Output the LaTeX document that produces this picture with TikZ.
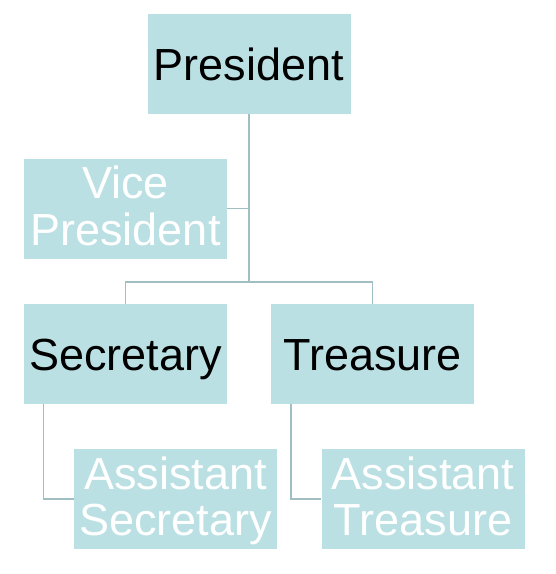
\documentclass[tikz,border=0pt]{standalone}
\usepackage{fontspec}
\setmainfont{Liberation Sans}
\definecolor{boxfill}{HTML}{BAE0E3}
\definecolor{linec}{HTML}{A0BFC3}
\newcommand{\twolines}[2]{\begin{tabular}[b]{@{}c@{}}#1\\#2\end{tabular}}
\begin{document}
\begin{tikzpicture}[x=1pt,y=-1pt,
  orgbox/.style={fill=boxfill, draw=none, minimum width=203pt, minimum height=100pt, inner sep=0pt,
    font=\fontsize{45}{46}\selectfont},
  oneline/.style={text height=33.4pt, text depth=0pt},
  twoline/.style={text height=73.6pt, text depth=0pt},
  darktext/.style={text=black},
  lighttext/.style={text=white},
  conn/.style={draw=linec, line width=1.3pt}]
\useasboundingbox (0,0) rectangle (556,574);
\node[orgbox,oneline,darktext] (pres) at (249,63.5) {President};
\node[orgbox,twoline,lighttext] (vp) at (125.5,208.5) {\twolines{Vice}{President}};
\node[orgbox,oneline,darktext] (sec) at (125.5,354) {Secretary};
\node[orgbox,oneline,darktext] (tre) at (372.5,354) {Treasure};
\node[orgbox,twoline,lighttext] (asec) at (175.5,499) {\twolines{Assistant}{Secretary}};
\node[orgbox,twoline,lighttext] (atre) at (423,499) {\twolines{Assistant}{Treasure}};
\coordinate (bus) at (249,282);
\coordinate (secl) at (43.5,404);
\coordinate (trel) at (291,404);
\draw[conn] (pres.south) -- (bus);
\draw[conn] (sec.north) |- (bus) -| (tre.north);
\draw[conn] (vp.east) -- (vp.east -| bus);
\draw[conn] (secl) |- (asec.west);
\draw[conn] (trel) |- (atre.west);
\end{tikzpicture}
\end{document}
